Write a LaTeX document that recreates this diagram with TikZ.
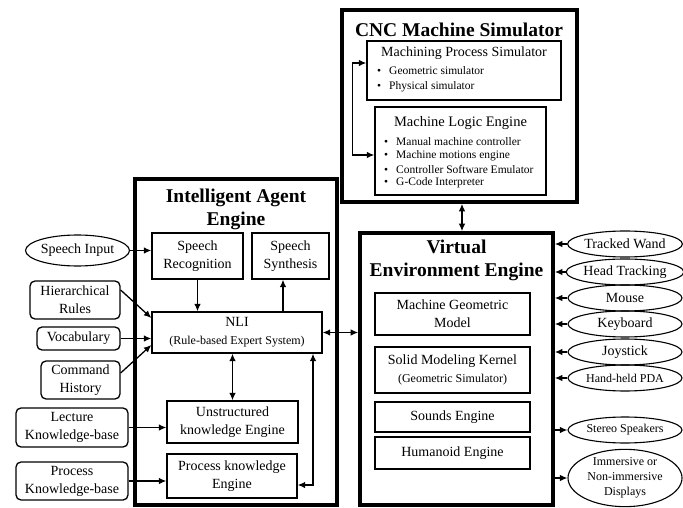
\documentclass[tikz,border=0pt]{standalone}
\usepackage{fontspec}
\setmainfont{Liberation Serif}
\usetikzlibrary{arrows.meta,shapes.geometric}
\newcommand{\fsz}[2]{\fontsize{#1}{#2}\selectfont}
\tikzset{
  frame/.style={draw,line width=3.6pt,inner sep=0pt},
  frametitle/.style={font=\bfseries\fsz{19.5}{23},align=center,inner sep=0pt},
  unit/.style={draw,line width=1.3pt,align=center,inner sep=1pt,font=\fsz{14}{18}},
  source/.style={draw,line width=1.3pt,rounded corners=5pt,align=center,inner sep=1pt,font=\fsz{14}{18}},
  device/.style={draw,line width=1.1pt,ellipse,inner sep=0pt,minimum width=114pt,minimum height=26pt,align=center,font=\fsz{14}{17}},
  item/.style={anchor=west,inner sep=0pt,font=\fsz{11.5}{13}},
  arrow/.style={-{Latex[length=7.5pt,width=6.5pt]},line width=1.3pt},
  twoWay/.style={{Latex[length=7.5pt,width=6.5pt]}-{Latex[length=7.5pt,width=6.5pt]},line width=1.3pt}
}
\begin{document}
\begin{tikzpicture}[x=1pt,y=-1pt]
  \useasboundingbox (0,0) rectangle (683,508);
  % CNC machine simulator
  \node[frame,minimum width=235pt,minimum height=192pt] (cnc) at (459.5,106) {};
  \node[frametitle] (cnctitle) at (459,30) {CNC Machine Simulator};
  \node[unit,minimum width=194pt,minimum height=59pt] (mps) at (464,70.5) {};
  \node[inner sep=0pt,font=\fsz{14}{17}] (mpstitle) at (464,53) {Machining Process Simulator};
  \foreach \t [count=\i] in {Geometric simulator,Physical simulator}
    \node[item] (mpsitem\i) at (377,{71+16*(\i-1)}) {\makebox[12pt][l]{\textbullet}\t};
  \node[unit,minimum width=171pt,minimum height=88pt] (mle) at (460.5,151) {};
  \node[inner sep=0pt,font=\fsz{14.5}{17}] (mletitle) at (460.5,123) {Machine Logic Engine};
  \foreach \t [count=\i] in {Manual machine controller,Machine motions engine,Controller Software Emulator,G-Code Interpreter}
    \node[item] (mleitem\i) at (384,{142+13.7*(\i-1)}) {\makebox[12pt][l]{\textbullet}\t};
  \draw[twoWay] ([yshift=7.5pt]mps.west) -- ++(-14,0) |- ([yshift=-4pt]mle.west);
  % virtual environment engine
  \node[frame,minimum width=193pt,minimum height=272pt] (vee) at (456.5,369) {};
  \node[frametitle] (veetitle) at (456.5,260) {Virtual\\Environment Engine};
  \node[unit,minimum width=155pt,minimum height=42pt] (geom) at (452.5,314) {Machine Geometric\\Model};
  \node[unit,minimum width=155pt,minimum height=46pt] (kernel) at (452.5,370) {Solid Modeling Kernel\\{\fsz{12}{15}(Geometric Simulator)}};
  \node[unit,minimum width=155pt,minimum height=30pt] (sounds) at (452.5,417) {Sounds Engine};
  \node[unit,minimum width=155pt,minimum height=32pt] (humanoid) at (452.5,453) {Humanoid Engine};
  \draw[twoWay] ([xshift=2.5pt]cnc.south) -- ([xshift=2.5pt]cnc.south |- vee.north);
  % devices
  \node[device] (wand) at (625,244) {Tracked Wand};
  \node[device] (head) at (625,272) {Head Tracking};
  \node[device] (mouse) at (625,298) {Mouse};
  \node[device] (keyboard) at (625,324) {Keyboard};
  \node[device] (joystick) at (625,352) {Joystick};
  \node[device,font=\fsz{12}{15}] (pda) at (625,378) {Hand-held PDA};
  \node[device,font=\fsz{12}{15}] (speakers) at (625,430) {Stereo Speakers};
  \node[device,font=\fsz{12}{15},minimum height=52pt] (displays) at (625,478) {Immersive or\\Non-immersive\\Displays};
  \foreach \d in {wand,head,mouse,keyboard,joystick,pda}
    \draw[arrow] (\d.west) -- (\d.west -| vee.east);
  \foreach \d in {speakers,displays}
    \draw[arrow] (\d.west -| vee.east) -- (\d.west);
  % intelligent agent engine
  \node[frame,minimum width=202pt,minimum height=326pt] (iae) at (236,342) {};
  \node[frametitle] (iaetitle) at (236,209) {Intelligent Agent\\Engine};
  \node[unit,minimum width=91pt,minimum height=46pt] (recog) at (197.5,256) {Speech\\Recognition};
  \node[unit,minimum width=77pt,minimum height=46pt] (synth) at (290.5,256) {Speech\\Synthesis};
  \node[unit,minimum width=170pt,minimum height=41pt] (nli) at (237,332.5) {NLI\\{\fsz{12}{15}(Rule-based Expert System)}};
  \node[unit,minimum width=131pt,minimum height=42pt] (unstruct) at (232.5,422) {Unstructured\\knowledge Engine};
  \node[unit,minimum width=130pt,minimum height=44pt] (procengine) at (232,476) {Process knowledge\\Engine};
  % inputs
  \node[device,minimum width=101pt,minimum height=31pt] (speech) at (77.5,250.5) {Speech Input};
  \node[source,minimum width=90pt,minimum height=38pt] (rules) at (75,300) {Hierarchical\\Rules};
  \node[source,minimum width=83pt,minimum height=23pt] (vocab) at (78.5,338.5) {Vocabulary};
  \node[source,minimum width=79pt,minimum height=38pt] (history) at (80.5,380) {Command\\History};
  \node[source,minimum width=112pt,minimum height=39pt] (lecture) at (72,427.5) {Lecture\\Knowledge-base};
  \node[source,minimum width=112pt,minimum height=38pt] (prockb) at (72,481) {Process\\Knowledge-base};
  \draw[arrow] (speech.east) -- (speech.east -| recog.west);
  \draw[arrow] (recog.south) -- (recog.south |- nli.north);
  \draw[arrow] ([xshift=-7.5pt]synth.south |- nli.north) -- ([xshift=-7.5pt]synth.south);
  \draw[arrow] ([yshift=10pt]rules.east) -- ([yshift=14.5pt]nli.west);
  \draw[arrow] (vocab.east) -- (vocab.east -| nli.west);
  \draw[arrow] ([yshift=7pt]history.east) -- ([yshift=-12.5pt]nli.west);
  \draw[arrow] (lecture.east) -- (lecture.east -| unstruct.west);
  \draw[arrow] (prockb.east) -- (prockb.east -| procengine.west);
  \draw[twoWay] (nli.south -| unstruct.north) -- (unstruct.north);
  \draw[twoWay] ([xshift=76pt]nli.south) |- ([yshift=-9pt]procengine.east);
  \draw[twoWay] (nli.east) -- (nli.east -| vee.west);
\end{tikzpicture}
\end{document}
